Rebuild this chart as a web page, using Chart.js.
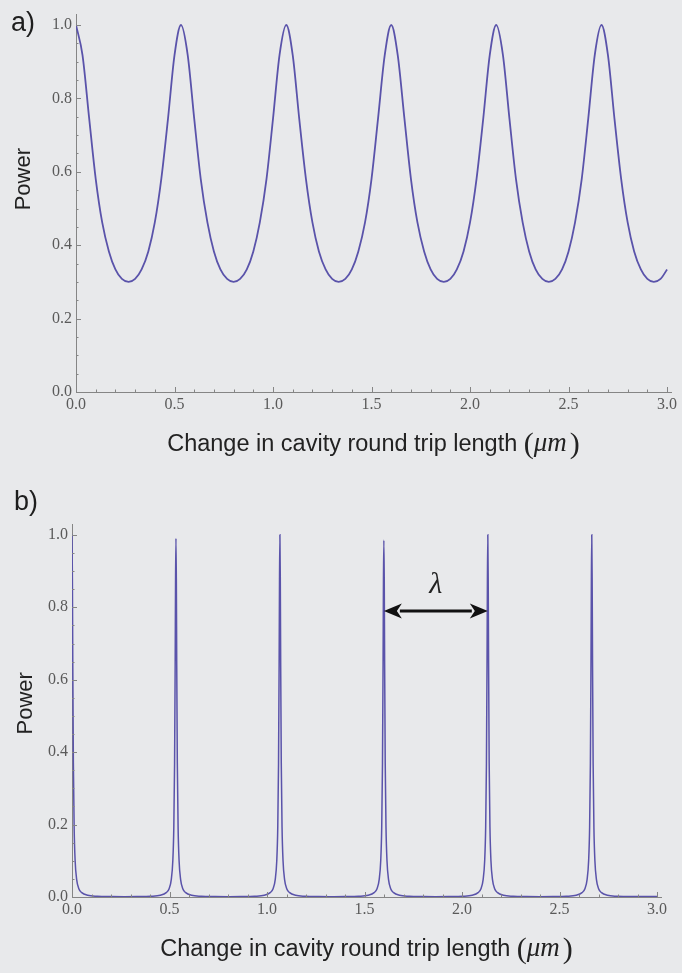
<!DOCTYPE html>
<html>
<head>
<meta charset="utf-8">
<script src="https://cdn.jsdelivr.net/npm/chart.js@4.4.1/dist/chart.umd.min.js"></script>
<style>
  body { margin: 0; background: #e8e9eb; }
  .panel { position: absolute; left: 0; width: 682px; }
  #wrapA { top: 0; height: 470px; }
  #wrapB { top: 470px; height: 503px; }
</style>
</head>
<body>
<div class="panel" id="wrapA"><canvas id="chartA"></canvas></div>
<div class="panel" id="wrapB"><canvas id="chartB"></canvas></div>
<script>

// tick labels shared by both plots
const xTicks = [0, 0.5, 1.0, 1.5, 2.0, 2.5, 3.0];
const yTicks = [0, 0.2, 0.4, 0.6, 0.8, 1.0];

// a) low finesse cavity: length change (um) and transmitted power
const xA = [
  0, 0.033, 0.067, 0.1, 0.133, 0.167, 0.2, 0.233, 0.267, 0.3,
  0.333, 0.367, 0.4, 0.433, 0.467, 0.5, 0.533, 0.567, 0.6, 0.633,
  0.667, 0.7, 0.733, 0.767, 0.8, 0.833, 0.867, 0.9, 0.933, 0.967,
  1.0, 1.033, 1.067, 1.1, 1.133, 1.167, 1.2, 1.233, 1.267, 1.3,
  1.333, 1.367, 1.4, 1.433, 1.467, 1.5, 1.533, 1.567, 1.6, 1.633,
  1.667, 1.7, 1.733, 1.767, 1.8, 1.833, 1.867, 1.9, 1.933, 1.967,
  2.0, 2.033, 2.067, 2.1, 2.133, 2.167, 2.2, 2.233, 2.267, 2.3,
  2.333, 2.367, 2.4, 2.433, 2.467, 2.5, 2.533, 2.567, 2.6, 2.633,
  2.667, 2.7, 2.733, 2.767, 2.8, 2.833, 2.867, 2.9, 2.933, 2.967,
  3.0
];
const powerA = [
  1.0, 0.918, 0.745, 0.581, 0.462, 0.383, 0.334, 0.308, 0.300, 0.308, 0.334, 0.383, 0.462, 0.581, 0.745, 0.918,
  1.0, 0.918, 0.745, 0.581, 0.462, 0.383, 0.334, 0.308, 0.300, 0.308, 0.334, 0.383, 0.462, 0.581, 0.745, 0.918,
  1.0, 0.918, 0.745, 0.581, 0.462, 0.383, 0.334, 0.308, 0.300, 0.308, 0.334, 0.383, 0.462, 0.581, 0.745, 0.918,
  1.0, 0.918, 0.745, 0.581, 0.462, 0.383, 0.334, 0.308, 0.300, 0.308, 0.334, 0.383, 0.462, 0.581, 0.745, 0.918,
  1.0, 0.918, 0.745, 0.581, 0.462, 0.383, 0.334, 0.308, 0.300, 0.308, 0.334, 0.383, 0.462, 0.581, 0.745, 0.918,
  1.0, 0.918, 0.745, 0.581, 0.462, 0.383, 0.334, 0.308, 0.300, 0.308, 0.334
];

// b) high finesse cavity, sampled densely round each resonance
const xB = [
  0, 0.002, 0.004, 0.007, 0.011, 0.016, 0.024, 0.035, 0.05, 0.08, 0.13, 0.2, 0.2665,
  0.333, 0.403, 0.453, 0.483, 0.498, 0.509, 0.517, 0.522, 0.526, 0.529, 0.531, 0.533,
  0.535, 0.537, 0.540, 0.544, 0.549, 0.557, 0.568, 0.583, 0.613, 0.663, 0.733, 0.7995,
  0.866, 0.936, 0.986, 1.016, 1.031, 1.042, 1.050, 1.055, 1.059, 1.062, 1.064, 1.066,
  1.068, 1.070, 1.073, 1.077, 1.082, 1.090, 1.101, 1.116, 1.146, 1.196, 1.266, 1.3325,
  1.399, 1.469, 1.519, 1.549, 1.564, 1.575, 1.583, 1.588, 1.592, 1.595, 1.597, 1.599,
  1.601, 1.603, 1.606, 1.610, 1.615, 1.623, 1.634, 1.649, 1.679, 1.729, 1.799, 1.8655,
  1.932, 2.002, 2.052, 2.082, 2.097, 2.108, 2.116, 2.121, 2.125, 2.128, 2.130, 2.132,
  2.134, 2.136, 2.139, 2.143, 2.148, 2.156, 2.167, 2.182, 2.212, 2.262, 2.332, 2.3985,
  2.465, 2.535, 2.585, 2.615, 2.630, 2.641, 2.649, 2.654, 2.658, 2.661, 2.663, 2.665,
  2.667, 2.669, 2.672, 2.676, 2.681, 2.689, 2.700, 2.715, 2.745, 2.795, 2.865, 3.0
];
const powerB = [
  1.0, 0.878, 0.643, 0.370, 0.192, 0.101, 0.048, 0.023, 0.012, 0.0048, 0.0021, 0.0012, 0.001,
  0.0012, 0.0021, 0.0048, 0.012, 0.023, 0.048, 0.101, 0.192, 0.370, 0.643, 0.878, 0.99,
  0.878, 0.643, 0.370, 0.192, 0.101, 0.048, 0.023, 0.012, 0.0048, 0.0021, 0.0012, 0.001,
  0.0012, 0.0021, 0.0048, 0.012, 0.023, 0.048, 0.101, 0.192, 0.370, 0.643, 0.878, 1.0,
  0.878, 0.643, 0.370, 0.192, 0.101, 0.048, 0.023, 0.012, 0.0048, 0.0021, 0.0012, 0.001,
  0.0012, 0.0021, 0.0048, 0.012, 0.023, 0.048, 0.101, 0.192, 0.370, 0.643, 0.878, 0.985,
  0.878, 0.643, 0.370, 0.192, 0.101, 0.048, 0.023, 0.012, 0.0048, 0.0021, 0.0012, 0.001,
  0.0012, 0.0021, 0.0048, 0.012, 0.023, 0.048, 0.101, 0.192, 0.370, 0.643, 0.878, 1.0,
  0.878, 0.643, 0.370, 0.192, 0.101, 0.048, 0.023, 0.012, 0.0048, 0.0021, 0.0012, 0.001,
  0.0012, 0.0021, 0.0048, 0.012, 0.023, 0.048, 0.101, 0.192, 0.370, 0.643, 0.878, 1.0,
  0.878, 0.643, 0.370, 0.192, 0.101, 0.048, 0.023, 0.012, 0.0048, 0.0021, 0.0012, 0.0012
];

// the free spectral range marked with the arrow in b)
const lambdaSpan = [1.599, 2.132];
const lambdaLevel = 0.79;

const lineColour = "#5a53aa";
const axisColour = "#858585";
const tickFont = { family: "Liberation Serif", size: 16 };


// axis titles, panel letter, inward tick marks and the lambda arrow
const extras = {
    id: "extras",
    afterDraw(chart, args, opts) {
        const ctx = chart.ctx;
        const xs = chart.scales.x;
        const ys = chart.scales.y;
        const area = chart.chartArea;
        ctx.save();

        // small ticks pointing into the plot
        ctx.strokeStyle = axisColour;
        ctx.lineWidth = 1;
        ctx.beginPath();
        for (let i = 1; i <= 30; i++) {
            const px = Math.round(xs.getPixelForValue(i / 10)) + 0.5;
            const len = i % 5 === 0 ? 5 : 2.5;
            ctx.moveTo(px, area.bottom);
            ctx.lineTo(px, area.bottom - len);
        }
        for (let i = 1; i <= 20; i++) {
            const py = Math.round(ys.getPixelForValue(i / 20)) + 0.5;
            const len = i % 4 === 0 ? 5 : 2.5;
            ctx.moveTo(area.left, py);
            ctx.lineTo(area.left + len, py);
        }
        ctx.stroke();

        // panel letter
        ctx.fillStyle = "#1e1e1e";
        ctx.font = '27px "Liberation Sans"';
        ctx.textAlign = "left";
        ctx.textBaseline = "alphabetic";
        ctx.fillText(opts.panel, opts.panelX, opts.panelY);

        // y title
        ctx.save();
        ctx.translate(opts.powerX, ys.getPixelForValue(opts.powerAt));
        ctx.rotate(-Math.PI / 2);
        ctx.font = '22px "Liberation Sans"';
        ctx.textAlign = "center";
        ctx.textBaseline = "middle";
        ctx.fillStyle = "#222";
        ctx.fillText("Power", 0, 0);
        ctx.restore();

        // x title, plain words then the unit in math italics
        const words = "Change in cavity round trip length ";
        const sans = '23.5px "Liberation Sans"';
        const paren = '30px "Liberation Serif"';
        const unit = 'italic 27px "Liberation Serif"';
        ctx.font = sans;
        const w1 = ctx.measureText(words).width;
        ctx.font = paren;
        const wp = ctx.measureText("(").width;
        ctx.font = unit;
        const wu = ctx.measureText("\u03bcm").width + 3;
        let tx = (area.left + area.right) / 2 - (w1 + wp * 2 + wu) / 2;
        const ty = area.bottom + 59;
        ctx.textAlign = "left";
        ctx.textBaseline = "alphabetic";
        ctx.fillStyle = "#222";
        ctx.font = sans;
        ctx.fillText(words, tx, ty);
        tx += w1;
        ctx.font = paren;
        ctx.fillText("(", tx, ty + 2);
        tx += wp;
        ctx.font = unit;
        ctx.fillText("\u03bcm", tx, ty);
        tx += wu;
        ctx.font = paren;
        ctx.fillText(")", tx, ty + 2);

        // double headed arrow between two resonances
        if (opts.arrow) {
            const x1 = xs.getPixelForValue(lambdaSpan[0]);
            const x2 = xs.getPixelForValue(lambdaSpan[1]);
            const ay = ys.getPixelForValue(lambdaLevel);
            const head = 18;
            ctx.strokeStyle = "#111";
            ctx.fillStyle = "#111";
            ctx.lineWidth = 3;
            ctx.beginPath();
            ctx.moveTo(x1 + head - 2, ay);
            ctx.lineTo(x2 - head + 2, ay);
            ctx.stroke();
            ctx.beginPath();
            ctx.moveTo(x1, ay);
            ctx.lineTo(x1 + head, ay - 7.5);
            ctx.lineTo(x1 + head - 5, ay);
            ctx.lineTo(x1 + head, ay + 7.5);
            ctx.closePath();
            ctx.fill();
            ctx.beginPath();
            ctx.moveTo(x2, ay);
            ctx.lineTo(x2 - head, ay - 7.5);
            ctx.lineTo(x2 - head + 5, ay);
            ctx.lineTo(x2 - head, ay + 7.5);
            ctx.closePath();
            ctx.fill();

            ctx.font = 'italic 30px "Liberation Serif"';
            ctx.textAlign = "center";
            ctx.textBaseline = "middle";
            ctx.fillStyle = "#222";
            ctx.fillText("\u03bb", (x1 + x2) / 2, ay - 26);
        }

        ctx.restore();
    }
};


function makeChart(el, xVals, yVals, cfg) {
    return new Chart(el, {
        type: "line",
        data: {
            datasets: [{
                data: xVals.map((x, i) => ({ x: x, y: yVals[i] })),
                borderColor: lineColour,
                borderWidth: cfg.lineWidth,
                pointRadius: 0,
                fill: false,
                // monotone keeps the sharp resonances from overshooting
                cubicInterpolationMode: "monotone"
            }]
        },
        options: {
            responsive: true,
            maintainAspectRatio: false,
            animation: false,
            layout: { padding: { top: cfg.top, right: cfg.right, left: 0, bottom: 0 } },
            plugins: {
                legend: { display: false },
                tooltip: { enabled: false },
                extras: cfg.extras
            },
            scales: {
                x: {
                    type: "linear",
                    min: 0,
                    max: 3.02,
                    afterBuildTicks: (scale) => { scale.ticks = xTicks.map(v => ({ value: v })); },
                    afterFit: (scale) => { scale.height = cfg.xHeight; },
                    grid: { drawOnChartArea: false, drawTicks: false },
                    border: { display: true, color: axisColour, width: 1 },
                    ticks: {
                        autoSkip: false,
                        maxRotation: 0,
                        padding: 3,
                        color: "#5a5a5a",
                        font: tickFont,
                        callback: (v) => Number(v).toFixed(1)
                    }
                },
                y: {
                    min: 0,
                    max: 1.03,
                    afterBuildTicks: (scale) => { scale.ticks = yTicks.map(v => ({ value: v })); },
                    afterFit: (scale) => { scale.width = cfg.yWidth; },
                    grid: { drawOnChartArea: false, drawTicks: false },
                    border: { display: true, color: axisColour, width: 1 },
                    ticks: {
                        padding: 4,
                        color: "#5a5a5a",
                        font: tickFont,
                        callback: (v) => Number(v).toFixed(1)
                    }
                }
            }
        },
        plugins: [extras]
    });
}

makeChart(document.getElementById("chartA"), xA, powerA, {
    lineWidth: 1.8,
    top: 14, right: 11, xHeight: 78, yWidth: 76,
    extras: { panel: "a)", panelX: 11, panelY: 31, powerX: 24, powerAt: 0.58 }
});

makeChart(document.getElementById("chartB"), xB, powerB, {
    lineWidth: 1.5,
    top: 54, right: 21, xHeight: 76, yWidth: 72,
    extras: { panel: "b)", panelX: 14, panelY: 40, powerX: 26, powerAt: 0.535, arrow: true }
});

</script>
</body>
</html>
